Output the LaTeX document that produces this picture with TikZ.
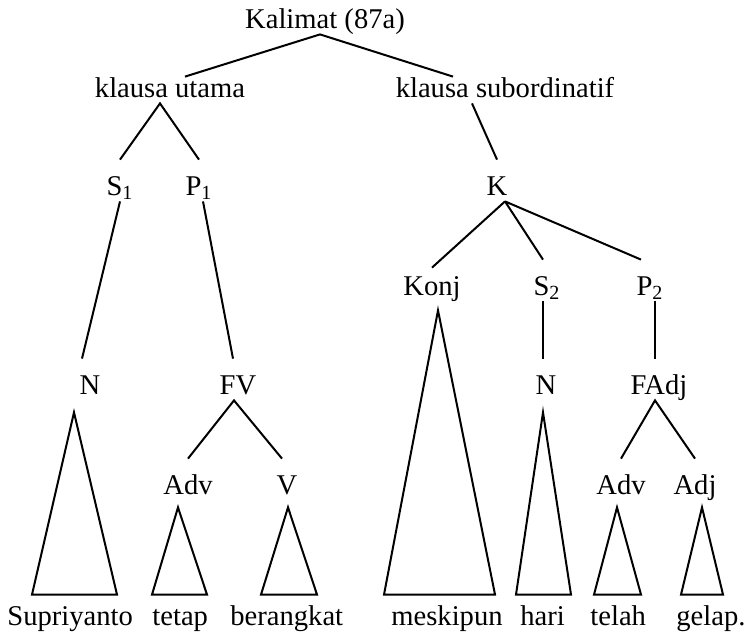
\documentclass[tikz,border=0pt]{standalone}
\usepackage{fontspec}
\setmainfont{Liberation Serif}
\usetikzlibrary{calc}
\begin{document}
\begin{tikzpicture}[
x=0.5pt, y=-0.5pt,
every node/.style={font=\fontsize{14.3}{17}\selectfont},
cat/.style={anchor=base, inner sep=0pt, inner ysep=3pt, text height=14.5pt, text depth=0pt},
word/.style={anchor=base west, inner sep=0pt, text height=15pt, text depth=0pt},
branch/.style={line width=1pt},
]
\useasboundingbox (0,0) rectangle (747,634);
% clauses
\node[cat] (kal) at (325,28) {Kalimat (87a)};
\node[cat] (ku) at (170,97) {klausa utama};
\node[cat] (ks) at (505,97) {klausa subordinatif};
% functions
\node[cat] (s1) at (120,195) {S\textsubscript{1}};
\node[cat] (p1) at (199,195) {P\textsubscript{1}};
\node[cat] (k) at (497,195) {K};
\node[cat] (konj) at (432,295) {Konj};
\node[cat] (s2) at (547,295) {S\textsubscript{2}};
\node[cat] (p2) at (650,295) {P\textsubscript{2}};
% categories
\node[cat] (n1) at (90,394) {N};
\node[cat] (fv) at (238,394) {FV};
\node[cat] (n2) at (546,394) {N};
\node[cat] (fadj) at (659,394) {FAdj};
\node[cat] (adv1) at (188,494) {Adv};
\node[cat] (v) at (287,494) {V};
\node[cat] (adv2) at (621,494) {Adv};
\node[cat] (adj) at (695,494) {Adj};
% words
\node[word] (w1) at (7,625) {Supriyanto};
\node[word] (w2) at (152,625) {tetap};
\node[word] (w3) at (230,625) {berangkat};
\node[word] (w4) at (391,625) {meskipun};
\node[word] (w5) at (520,625) {hari};
\node[word] (w6) at (590,625) {telah};
\node[word] (w7) at (676,625) {gelap.};

\draw[branch] ([xshift=7.5pt,yshift=-7.5pt]ku.north) -- ([xshift=-2.5pt]kal.south)
  -- ([xshift=-26pt,yshift=-7.5pt]ks.north);
\draw[branch] (s1.north) -- ([xshift=-5pt]ku.south) -- (p1.north);
\draw[branch] ([xshift=-16.5pt]ks.south) -- (k.north);
\draw[branch] (s1.south) -- ([xshift=-4pt]n1.north);
\draw[branch] ([xshift=2pt]p1.south) -- ([xshift=-2.5pt]fv.north);
\draw[branch] ([xshift=4pt]k.south) -- ([yshift=-4pt]konj.north)
  ([xshift=4pt]k.south) -- ([xshift=-2pt]s2.north)
  ([xshift=4pt]k.south) -- ([xshift=-4.5pt]p2.north);
\draw[branch] ([xshift=-2pt]s2.south) -- ([xshift=-1.5pt]n2.north);
\draw[branch] ([xshift=2.5pt]p2.south) -- ([xshift=-2pt]fadj.north);
\draw[branch] (adv1.north) -- ([xshift=-2pt]fv.south) -- ([xshift=-2.5pt]v.north);
\draw[branch] (adv2.north) -- ([xshift=-2pt]fadj.south) -- (adj.north);

% roofs over the words
\foreach \c/\dx/\dy/\w/\hl/\hr in {n1/-16/12/w1/42/43, konj/6/9/w4/54/57,
  adv1/-10/7/w2/26/29, v/1/7/w3/27/29, n2/-3/12/w5/27/28,
  adv2/-4/7/w6/23/24, adj/7/7/w7/21/21}
  \draw[branch] ($(\c.south)+(\dx,\dy)$) coordinate (top)
    -- ($(top |- \w.north)+(-\hl,0)$) -- ($(top |- \w.north)+(\hr,0)$) -- cycle;
\end{tikzpicture}
\end{document}
